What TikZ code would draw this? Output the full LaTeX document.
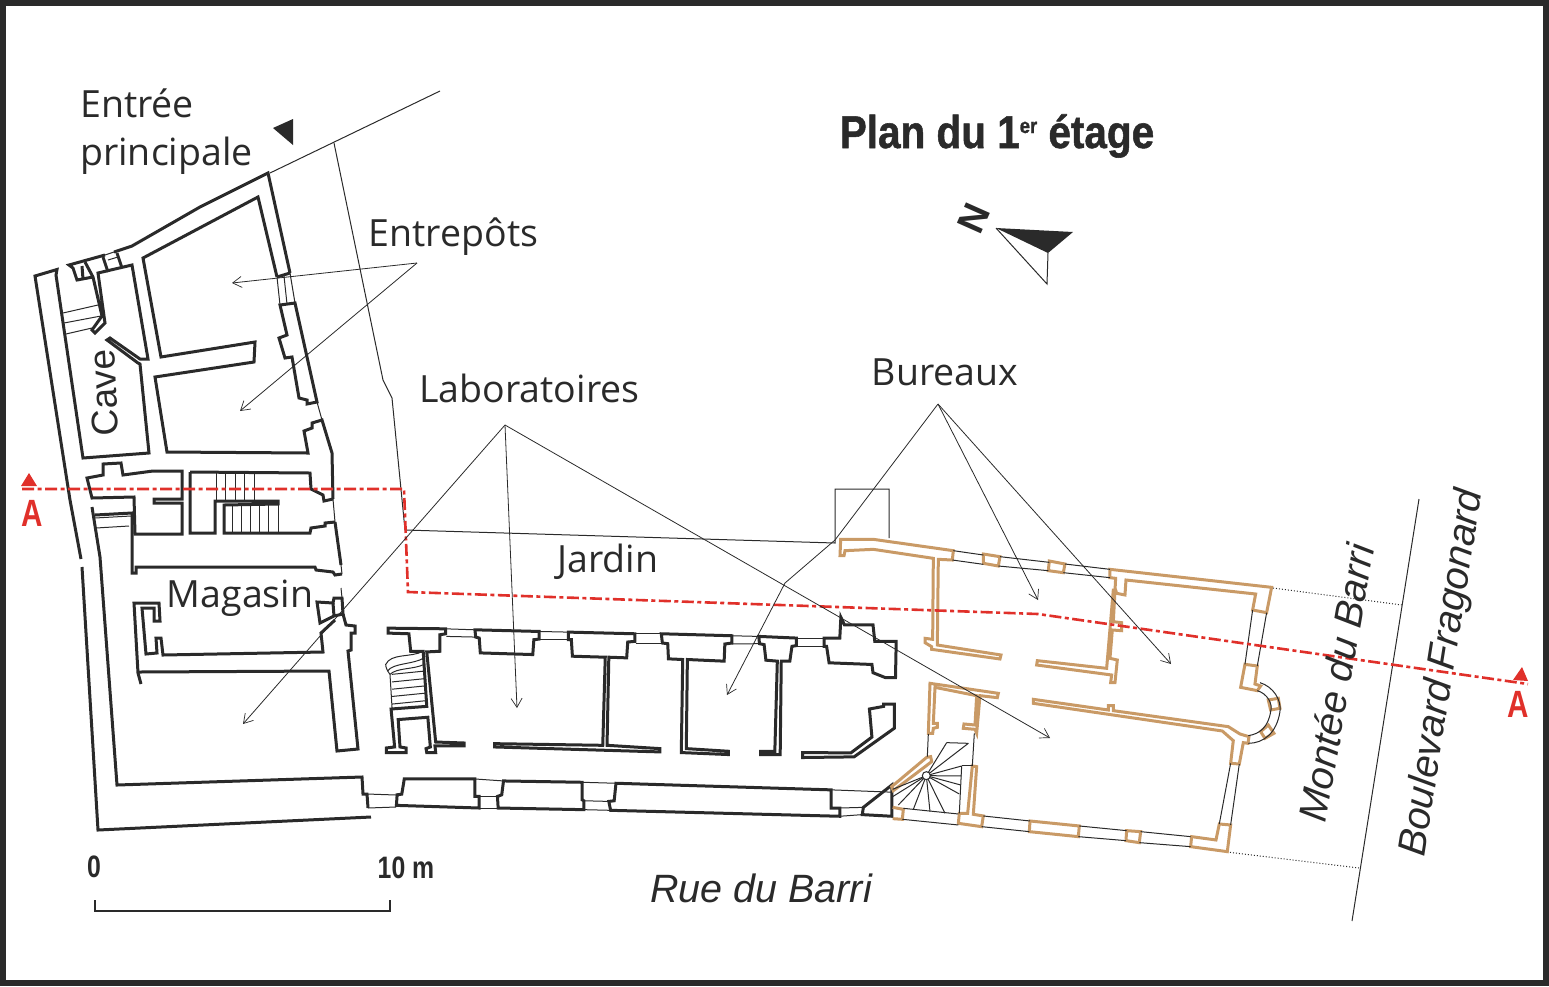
\documentclass[tikz,border=0pt]{standalone}
\usepackage{fontspec}
\setmainfont{Open Sans}
\newfontfamily\arialfont{Liberation Sans}
\newfontfamily\titlefont[BoldFeatures={FakeBold=1.2}]{Liberation Sans}
\usetikzlibrary{arrows.meta}
\definecolor{planblack}{HTML}{2A2A2A}
\definecolor{plantan}{HTML}{C99A66}
\definecolor{planred}{HTML}{E0302A}
\tikzset{
  wall/.style={draw=planblack,line width=3pt},
  oldwall/.style={draw=plantan,line width=3pt},
  thin line/.style={draw=planblack,line width=1pt},
  leader/.style={draw=planblack,line width=0.8pt,-{Straight Barb[length=9pt,width=11pt,line width=0.7pt]}},
  cut line/.style={draw=planred,line width=2.6pt,dash pattern=on 12pt off 3.5pt on 4pt off 3.5pt},
  room/.style={text=planblack,font=\fontsize{37.5}{48}\selectfont,inner sep=0pt},
  street/.style={text=planblack,font=\arialfont\itshape\fontsize{39.5}{48}\selectfont,inner sep=0pt},
  scale mark/.style={text=planblack,font=\arialfont\bfseries\fontsize{31}{36}\selectfont,inner sep=0pt},
  cut mark/.style={text=planred,font=\arialfont\bfseries\fontsize{38}{40}\selectfont,inner sep=0pt}
}
\begin{document}
\begin{tikzpicture}[x=1pt,y=-1pt]
  \useasboundingbox (0,0) rectangle (1549,986);
  % Frame
  \draw[planblack,line width=6pt] (3,3) rectangle (1546,983);
  % Thin garden and street lines
  \draw[thin line] (440,91) -- (270,173);
  \draw[thin line] (334,143) -- (383,380) -- (392,398) -- (405,530) -- (835,543) -- (835,489) -- (889,489) -- (889,538);
  \draw[thin line] (1419,499) -- (1352,921);
  \draw[planblack,line width=1pt,dotted] (1273,588) -- (1402,605);
  \draw[planblack,line width=1pt,dotted] (1227,852) -- (1359,868);
  % West wing
  \draw[wall] (70,500) -- (35,276) -- (57,269.5) -- (56,275) -- (83,458) -- (149,453) -- (140,364) -- (138,363) -- (107,340) -- (110,338) -- (140,359) -- (148,359) -- (132,265) -- (98,273) -- (105,323) -- (95,333) -- (92,330) -- (102,316) -- (93,277) -- (85,262);
  \draw[wall] (105,255) -- (69,265) -- (73,268) -- (77,280) -- (93,277);
  \draw[wall] (82,266) -- (83,279);
  \draw[wall] (103,257) -- (108,272);
  \draw[wall] (117,253) -- (122,268);
  \draw[wall] (114,252) -- (132,246) -- (200,207) -- (268,173) -- (290,273);
  \draw[wall] (277,277) -- (258,197) -- (143,258) -- (161,357) -- (255,342) -- (254,362) -- (155,377) -- (167,452) -- (308,453) -- (304,431) -- (312,428) -- (312,423) -- (322,420) -- (332,453) -- (333,499);
  \draw[wall] (277,277) -- (290,273);
  \draw[wall] (295,303) -- (317,402) -- (307,404) -- (307,400) -- (299,398) -- (292,357) -- (285,358) -- (279,338) -- (287,335) -- (280,305) -- cycle;
  \draw[wall] (87,478) -- (103,475) -- (103,464) -- (121,463) -- (123,475) -- (153,471) -- (182,471) -- (182,499) -- (154,499) -- (154,503) -- (182,503) -- (182,534) -- (135,534) -- (134,497) -- (92,498) -- cycle;
  \draw[wall] (190,472) -- (310,473) -- (311,489) -- (323,495) -- (324,501) -- (333,499);
  \draw[wall] (335,522) -- (325,523) -- (325,526) -- (311,528) -- (310,533) -- (224,533) -- (224,505) -- (278,504) -- (278,501) -- (215,501) -- (215,533) -- (190,533) -- (190,472);
  \draw[wall] (335,522) -- (341,565);
  \draw[wall] (92,507) -- (100,557) -- (117,785) -- (362,777) -- (363,794) -- (367,794) -- (368,808);
  \draw[wall] (95,515) -- (132,513) -- (132,573) -- (136,573) -- (136,567) -- (315,567) -- (316,570) -- (333,572) -- (335,575) -- (342,574);
  \draw[wall] (81,559) -- (70,500);
  \draw[wall] (82,567) -- (98,830) -- (371,817);
  \draw[wall] (317,602) -- (333,603) -- (334,598) -- (342,598) -- (343,614) -- (334,616) -- (320,623) -- cycle;
  \draw[wall] (333,603) -- (334,616);
  \draw[wall] (343,614) -- (346,625) -- (355,626) -- (355,633) -- (351,633) -- (351,650) -- (348,651) -- (358,749) -- (337,751) -- (329,671) -- (139,672);
  \draw[wall] (141,684) -- (138,673) -- (134,603) -- (159,603) -- (160,621) -- (154,621) -- (154,608) -- (142,608) -- (146,654) -- (157,653) -- (156,638) -- (161,638) -- (163,655) -- (323,652) -- (321,633) -- (335,620);
  % West wing, thin parts
  \draw[thin line] (63,313) -- (98,305);
  \draw[thin line] (64,323) -- (101,316);
  \draw[thin line] (66,334) -- (92,328);
  \draw[thin line] (105,255) -- (114,252);
  \draw[thin line] (108,260) -- (118,257);
  \draw[thin line] (277,277) -- (280,305);
  \draw[thin line] (284,276) -- (287,304);
  \draw[thin line] (290,273) -- (295,303);
  \draw[thin line] (317,402) -- (322,420);
  \draw[thin line] (333,499) -- (335,522);
  \draw[thin line] (341,565) -- (342,574);
  \draw[thin line] (341,588) -- (342,598);
  \draw[thin line] (95,518) -- (131,516);
  \draw[thin line] (96,528) -- (129,526);
  \foreach \stairx in {216,225,235,244,254}
    \draw[thin line] (\stairx,473) -- (\stairx,501);
  \foreach \stairx in {232,241,250,259,268,278}
    \draw[thin line] (\stairx,505) -- (\stairx,533);
  \draw[thin line] (367,794) -- (396,795);
  \draw[thin line] (368,808) -- (396,807);
  % Laboratories, north row and south wall
  \begin{scope}[shift={(350,610)},x=.357pt,y=-.33pt]
    \draw[wall] (107,55) -- (268,57) -- (268,72) -- (252,75) -- (252,125) -- (215,127) -- (240,400) -- (320,403) -- (320,412) -- (238,412) -- (240,432) -- (215,432) -- (213,420) -- (225,415) -- (218,325) -- (135,332) -- (140,415) -- (157,418) -- (157,432) -- (102,432) -- (102,418) -- (125,415) -- (115,300) -- (215,292) -- (205,125) -- (170,125) -- (165,72) -- (107,70) -- cycle;
    \draw[wall] (350,60) -- (530,65) -- (530,88) -- (515,90) -- (512,135) -- (365,130) -- (362,85) -- (352,82) -- cycle;
    \draw[wall] (612,67) -- (798,72) -- (798,95) -- (778,97) -- (775,145) -- (725,143) -- (720,410) -- (868,420) -- (868,430) -- (405,415) -- (405,405) -- (708,410) -- (715,143) -- (623,140) -- (620,90) -- (612,90) -- cycle;
    \draw[wall] (872,72) -- (1070,78) -- (1070,100) -- (1050,103) -- (1048,155) -- (945,150) -- (942,420) -- (1060,428) -- (1060,438) -- (928,432) -- (932,150) -- (892,148) -- (890,102) -- (875,100) -- cycle;
    \draw[wall] (1145,80) -- (1250,85) -- (1250,108) -- (1238,110) -- (1232,155) -- (1208,155) -- (1205,438) -- (1150,438) -- (1150,428) -- (1190,428) -- (1197,155) -- (1165,152) -- (1160,105) -- (1147,102) -- cycle;
    \draw[wall] (1328,85) -- (1372,85) -- (1375,22) -- (1385,45) -- (1465,45) -- (1470,95) -- (1530,95) -- (1528,205) -- (1500,205) -- (1465,190) -- (1462,165) -- (1342,160) -- (1335,110) -- (1328,110) -- cycle;
    \draw[wall] (1455,300) -- (1495,292) -- (1495,285) -- (1525,285) -- (1525,358) -- (1412,445) -- (1268,447) -- (1268,432) -- (1403,433) -- (1462,385) -- cycle;
    \draw[wall] (152,512) -- (350,512) -- (350,565) -- (362,565) -- (362,600) -- (130,592) -- (132,560) -- (145,558) -- cycle;
    \draw[wall] (430,518) -- (650,522) -- (650,575) -- (655,578) -- (655,605) -- (415,600) -- (413,565) -- (425,560) -- cycle;
    \draw[wall] (745,525) -- (1348,545) -- (1348,600) -- (1372,600) -- (1372,625) -- (730,607) -- (725,580) -- (740,578) -- cycle;
    \draw[wall] (1518,530) -- (1518,625) -- (1435,620) -- (1438,598) -- cycle;
    % Windows
    \draw[thin line] (268,57) -- (350,60);
    \draw[thin line] (270,80) -- (352,82);
    \draw[thin line] (530,65) -- (612,67);
    \draw[thin line] (530,90) -- (612,90);
    \draw[thin line] (798,72) -- (872,72);
    \draw[thin line] (800,100) -- (875,100);
    \draw[thin line] (1070,78) -- (1145,80);
    \draw[thin line] (1070,103) -- (1147,102);
    \draw[thin line] (1250,85) -- (1328,85);
    \draw[thin line] (1250,110) -- (1328,110);
    \draw[thin line] (350,512) -- (430,518);
    \draw[thin line] (362,565) -- (413,565);
    \draw[thin line] (362,600) -- (415,600);
    \draw[thin line] (650,522) -- (745,525);
    \draw[thin line] (655,578) -- (725,580);
    \draw[thin line] (655,605) -- (730,607);
    \draw[thin line] (1348,545) -- (1518,552);
    \draw[thin line] (1372,600) -- (1438,598);
    \draw[thin line] (1372,625) -- (1435,620);
    % Stair beside the first laboratory
    \draw[thin line] (205,125) .. controls (170,145) and (115,130) .. (100,165) .. controls (100,175) and (105,185) .. (112,195);
    \draw[thin line] (207,145) .. controls (180,165) and (120,160) .. (105,185);
    \draw[thin line] (207,165) .. controls (180,180) and (130,175) .. (112,195);
    \draw[thin line] (112,195) -- (118,300);
    \foreach \stepy in {195,218,240,262,285}
      \draw[thin line] (115+\stepy/100,\stepy) -- (205+\stepy/50,\stepy-10);
  \end{scope}
  % East part, old walls
  \begin{scope}[shift={(820,530)},x=.3333pt,y=-.3333pt]
    \draw[oldwall] (62,28) -- (160,28) -- (400,62) -- (397,90) -- (355,88) -- (352,345) -- (543,375) -- (540,387) -- (335,358) -- (335,350) -- (315,338) -- (315,325) -- (338,328) -- (340,85) -- (160,58) -- (75,62) -- (72,77) -- (60,77) -- cycle;
    \draw[oldwall] (490,72) -- (540,80) -- (535,108) -- (490,100) -- cycle;
    \draw[oldwall] (688,93) -- (735,102) -- (730,128) -- (685,122) -- cycle;
    \draw[oldwall] (870,118) -- (1355,172) -- (1340,248) -- (1298,240) -- (1307,192) -- (918,150) -- (915,195) -- (890,190) -- (887,180) -- (880,180) -- (860,415) -- (652,392) -- (650,405) -- (875,435) -- (872,458) -- (885,458) -- (892,390) -- (870,385) -- (877,300) -- (905,302) -- (905,278) -- (880,275) -- (887,145) -- (870,143) -- cycle;
    \draw[oldwall] (640,508) -- (865,540) -- (865,527) -- (880,527) -- (880,542) -- (1225,590) -- (1260,612) -- (1287,620) -- (1284,640) -- (1270,638) -- (1258,702) -- (1232,700) -- (1240,632) -- (1207,603) -- (640,520) -- cycle;
    \draw[oldwall] (1198,882) -- (1232,885) -- (1222,965) -- (1112,950) -- (1115,920) -- (1188,930) -- cycle;
    \draw[oldwall] (920,902) -- (962,905) -- (958,938) -- (918,932) -- cycle;
    \draw[oldwall] (630,873) -- (778,888) -- (775,920) -- (628,905) -- cycle;
    \draw[oldwall] (457,708) -- (470,710) -- (460,853) -- (490,858) -- (485,890) -- (415,880) -- (418,850) -- (443,850) -- cycle;
    \draw[oldwall] (1275,403) -- (1312,408) -- (1305,462) -- (1322,468) -- (1312,482) -- (1262,472) -- cycle;
    \draw[oldwall] (1345,510) -- (1375,505) -- (1380,535) -- (1352,540) -- cycle;
    \draw[oldwall] (1322,605) -- (1345,585) -- (1362,610) -- (1335,625) -- cycle;
    \draw[oldwall] (330,460) -- (535,490) -- (532,503) -- (480,497) -- (470,610) -- (465,598) -- (430,595) -- (432,582) -- (465,585) -- (470,497) -- (345,472) -- (340,580) -- (352,580) -- (352,592) -- (340,595) -- (338,610) -- (325,610) -- cycle;
    \draw[oldwall] (320,682) -- (332,680) -- (335,695) -- (220,782) -- (215,770) -- cycle;
    \draw[oldwall] (218,832) -- (250,838) -- (247,868) -- (218,866);
    % Windows and apse
    \draw[thin line] (400,62) -- (490,75);
    \draw[thin line] (397,90) -- (490,103);
    \draw[thin line] (540,80) -- (688,97);
    \draw[thin line] (535,108) -- (685,122);
    \draw[thin line] (735,102) -- (870,118);
    \draw[thin line] (730,128) -- (870,143);
    \draw[thin line] (1298,240) -- (1275,403);
    \draw[thin line] (1340,248) -- (1312,408);
    \draw[thin line] (1232,700) -- (1198,882);
    \draw[thin line] (1258,702) -- (1232,885);
    \draw[thin line] (1112,920) -- (962,905);
    \draw[thin line] (1112,950) -- (958,938);
    \draw[thin line] (920,902) -- (778,888);
    \draw[thin line] (918,932) -- (775,920);
    \draw[thin line] (630,873) -- (490,858);
    \draw[thin line] (628,905) -- (485,890);
    \draw[thin line] (1320,458) .. controls (1360,470) and (1385,510) .. (1380,545) .. controls (1370,610) and (1330,640) .. (1285,640);
    \draw[thin line] (1312,482) .. controls (1340,490) and (1360,520) .. (1352,545) .. controls (1345,590) and (1320,612) .. (1285,617);
    \draw[thin line] (325,612) -- (322,680);
    \draw[thin line] (463,610) -- (457,708);
    \draw[thin line] (250,835) -- (415,852);
    \draw[thin line] (247,868) -- (415,885);
    % Spiral stair
    \draw[thin line] (380,638) -- (445,640);
    \draw[thin line] (425,708) -- (418,850);
    \draw[thin line] (425,708) -- (457,708);
    \foreach \stairend in {(380,638),(445,640),(425,708),(425,738),(422,765),(418,792),(375,850),(330,845),(280,838),(235,825),(218,800),(218,778)}
      \draw[thin line] (319,737) -- \stairend;
    \draw[thin line,fill=white] (319,737) circle (4pt);
  \end{scope}
  % Section line
  \coordinate (cutwest) at (22,489);
  \coordinate (cuteast) at (1528,684);
  \draw[cut line] (cutwest) -- (404,489) -- (408,592) -- (1038,614) -- (cuteast);
  \fill[planred] (21,486) -- (37,486) -- (29,473) -- cycle;
  \fill[planred] (1513,680) -- (1528,681) -- (1522,667) -- cycle;
  \node[cut mark] (awest) at (32,513) {\scalebox{.78}[1]{A}};
  \node[cut mark] (aeast) at (1518,704) {\scalebox{.78}[1]{A}};
  % Entry mark and north arrow
  \fill[planblack] (273,128) -- (293,119) -- (293,145) -- cycle;
  \fill[planblack] (996,228) -- (1073,232) -- (1048,253) -- cycle;
  \draw[thin line] (996,228) -- (1047,284) -- (1048,253);
  \node[text=planblack,inner sep=0pt,rotate=-114,font=\arialfont\fontsize{38}{40}\selectfont\bfseries] (north) at (974,218) {N};
  % Title
  \node[text=planblack,inner sep=0pt,font=\titlefont\bfseries\fontsize{46}{48}\selectfont] (title) at (997,136) {\scalebox{.88}[1]{Plan du 1\raisebox{15pt}{\fontsize{21}{21}\selectfont er} étage}};
  % Room labels
  \node[room,anchor=west,align=left] (entry) at (80,132) {Entrée\\principale};
  \node[room,anchor=base] (entrepots) at (453.5,246) {Entrepôts};
  \node[room,anchor=base] (labos) at (529.5,402) {Laboratoires};
  \node[room,anchor=base] (bureaux) at (945,385) {Bureaux};
  \node[room,anchor=base] (jardin) at (608,572) {Jardin};
  \node[room,anchor=base] (magasin) at (240,607) {Magasin};
  \node[text=planblack,inner sep=0pt,font=\arialfont\fontsize{37}{40}\selectfont,rotate=93] (cave) at (104,393) {Cave};
  % Street labels
  \node[street,anchor=base] (rue) at (761,902) {Rue du Barri};
  \node[street,rotate=80] (montee) at (1336,683) {Montée du Barri};
  \node[street,rotate=81] (boulevard) at (1443,673) {Boulevard Fragonard};
  % Leaders
  \coordinate (entrepotsroot) at (417,263);
  \coordinate (entrepotsa) at (232,283);
  \coordinate (entrepotsb) at (240,411);
  \coordinate (labosroot) at (505,425);
  \coordinate (labosa) at (243,724);
  \coordinate (labosb) at (517,708);
  \coordinate (labosc) at (1050,738);
  \coordinate (bureauxroot) at (938,404);
  \coordinate (bureauxa) at (1038,600);
  \coordinate (bureauxb) at (1171,664);
  \coordinate (bureauxc) at (727,695);
  \draw[leader] (entrepotsroot) -- (entrepotsa);
  \draw[leader] (entrepotsroot) -- (entrepotsb);
  \draw[leader] (labosroot) -- (labosa);
  \draw[leader] (labosroot) -- (labosb);
  \draw[leader] (labosroot) -- (labosc);
  \draw[leader] (bureauxroot) -- (bureauxa);
  \draw[leader] (bureauxroot) -- (bureauxb);
  \draw[leader] (bureauxroot) -- (835,540) -- (785,583) -- (bureauxc);
  % Scale bar
  \node[scale mark] (scalezero) at (94,867) {\scalebox{.8}[1]{0}};
  \node[scale mark] (scaleten) at (406,868) {\scalebox{.8}[1]{10 m}};
  \draw[planblack,line width=1.8pt] (95,900) -- (95,911) -- (390,911) -- (390,900);
\end{tikzpicture}
\end{document}
